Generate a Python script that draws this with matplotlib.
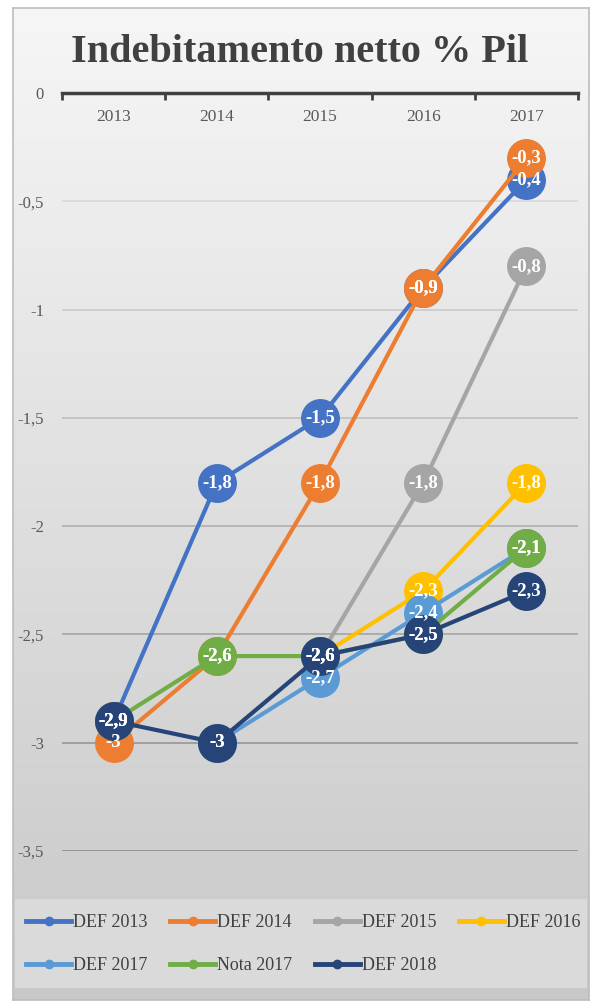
import numpy as np
import matplotlib.pyplot as plt
from matplotlib.lines import Line2D
from matplotlib.patches import Rectangle

plt.rcParams['font.family'] = ['Liberation Serif', 'DejaVu Serif']

# dati
anni = ['2013', '2014', '2015', '2016', '2017']
nan = np.nan
def_2013 = [-2.9, -1.8, -1.5, -0.9, -0.4]
def_2014 = [-3.0, -2.6, -1.8, -0.9, -0.3]
def_2015 = [nan, nan, -2.6, -1.8, -0.8]
def_2016 = [nan, nan, -2.6, -2.3, -1.8]
def_2017 = [nan, -3.0, -2.7, -2.4, -2.1]
nota_2017 = [-2.9, -2.6, -2.6, -2.5, -2.1]
def_2018 = [-2.9, -3.0, -2.6, -2.5, -2.3]

serie = [('DEF 2013', def_2013, '#4472C4'),
         ('DEF 2014', def_2014, '#ED7D31'),
         ('DEF 2015', def_2015, '#A5A5A5'),
         ('DEF 2016', def_2016, '#FFC000'),
         ('DEF 2017', def_2017, '#5B9BD5'),
         ('Nota 2017', nota_2017, '#70AD47'),
         ('DEF 2018', def_2018, '#264478')]

yticks = [0, -0.5, -1, -1.5, -2, -2.5, -3, -3.5]

W, H = 600, 1007
fig = plt.figure(figsize=(W / 100, H / 100), dpi=100, facecolor='white')

# sfondo sfumato del grafico
bg = fig.add_axes([13 / W, 1 - 1000 / H, 576 / W, 992 / H], zorder=-2)
grad = np.linspace(0.965, 0.785, 256).reshape(-1, 1)
bg.imshow(np.dstack([grad, grad, grad]), aspect='auto', extent=[0, 1, 0, 1])
bg.set_xlim(0, 1); bg.set_ylim(0, 1)
bg.set_xticks([]); bg.set_yticks([])
for s in bg.spines.values():
    s.set_color('#BDBDBD')
    s.set_linewidth(1.2)
# riquadro legenda
bg.add_patch(Rectangle((2 / 576, 12 / 992), 572 / 576, 89 / 992, facecolor='#DADADA',
                       edgecolor='none', zorder=3))

ax = fig.add_axes([62 / W, 1 - 851 / H, 516 / W, 758 / H], zorder=1)
ax.set_facecolor('none')
x = np.arange(len(anni))

for nome, vals, col in serie:
    ax.plot(x, vals, color=col, lw=3, marker='o', ms=27, mec=col, mfc=col,
            solid_capstyle='round', zorder=3, clip_on=False)
for nome, vals, col in serie:
    for xi, v in zip(x, vals):
        if np.isnan(v):
            continue
        ax.text(xi, v, f'{v:g}'.replace('.', ','), ha='center', va='center',
                color='white', fontsize=13.5, fontweight='bold', zorder=5)

ax.set_xlim(-0.5, 4.5)
ax.set_ylim(-3.5, 0)

# asse x in alto
ax.xaxis.tick_top()
ax.set_xticks(x, anni)
ax.set_xticks(np.arange(-0.5, 5, 1), minor=True)
ax.tick_params(axis='x', which='major', length=0, pad=-23, labelsize=12.5, labelcolor='#595959')
ax.tick_params(axis='x', which='minor', direction='in', length=5, width=2, color='#404040')
for k in ['left', 'right', 'bottom']:
    ax.spines[k].set_visible(False)
ax.spines['top'].set_linewidth(2.5)
ax.spines['top'].set_color('#404040')
ax.spines['top'].set_zorder(2)

ax.set_yticks(yticks, [f'{v:g}'.replace('.', ',') for v in yticks])
ax.tick_params(axis='y', length=0, pad=13, labelsize=12, labelcolor='#595959')
ax.grid(axis='y', lw=1.2, zorder=0)
grid_cols = ['#404040', '#D8D8D8', '#CBCBCB', '#BEBEBE', '#B0B0B0', '#A3A3A3', '#969696', '#8A8A8A']
for gl, c in zip(ax.yaxis.get_gridlines(), grid_cols):
    gl.set_color(c)
ax.yaxis.get_gridlines()[0].set_visible(False)
ax.set_axisbelow(True)

fig.text(0.5, 1 - 62 / H, 'Indebitamento netto % Pil', ha='center', va='baseline',
         fontsize=29, fontweight='bold', color='#404040')

# legenda (ordine per colonne)
ordine = [0, 4, 1, 5, 2, 6, 3]
handles = [Line2D([], [], color=serie[i][2], lw=3.5, marker='o', ms=6) for i in ordine]
labels = [serie[i][0] for i in ordine]
leg = fig.legend(handles, labels, ncol=4, loc='center', bbox_to_anchor=(0.505, 1 - 944 / H),
                 frameon=False, fontsize=13, handlelength=2.5, handletextpad=0.1,
                 columnspacing=1.25, labelspacing=1.45, labelcolor='#404040')

fig.savefig('out.png', dpi=100, facecolor='white')
